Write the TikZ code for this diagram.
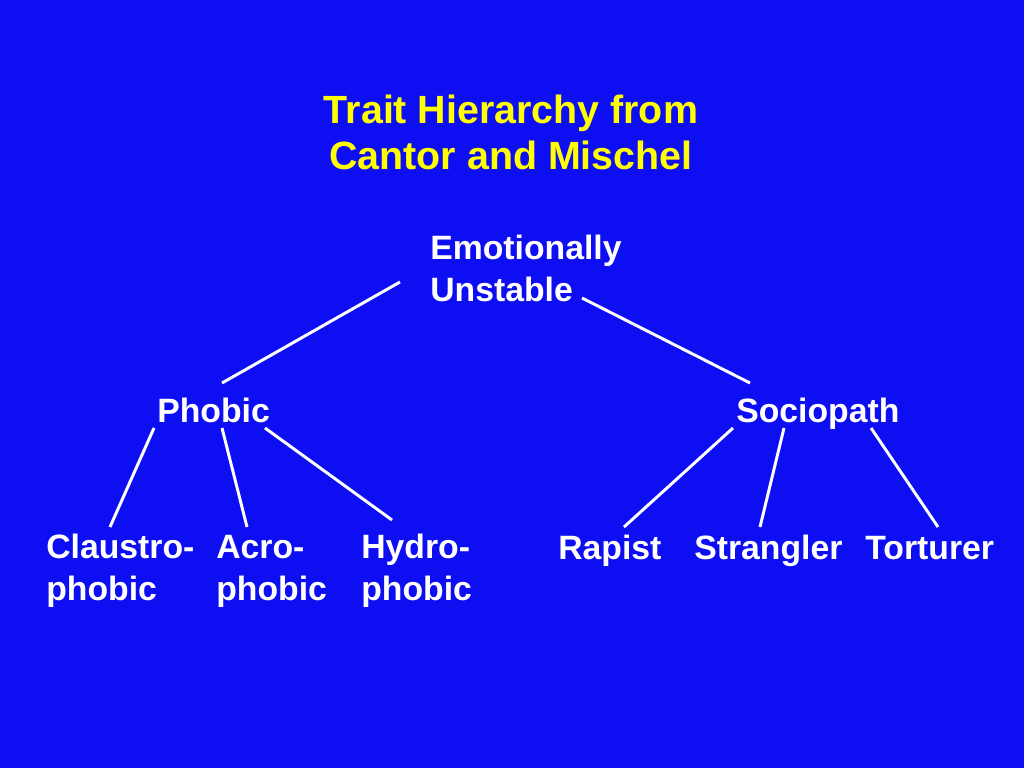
\documentclass[tikz,border=0pt]{standalone}
\usepackage{fontspec}
\setmainfont{Liberation Sans}
\usetikzlibrary{calc}
\definecolor{slideblue}{RGB}{14,14,242}
\definecolor{titleyellow}{RGB}{255,255,0}

\begin{document}
\begin{tikzpicture}[
  x=0.025cm, y=-0.025cm,
  trait/.style={anchor=base west, inner sep=0pt, align=left, text=white,
    font=\fontsize{24}{29.2}\selectfont\bfseries},
  heading/.style={anchor=base, inner sep=0pt, align=center, text=titleyellow,
    font=\fontsize{28}{33.4}\selectfont\bfseries},
  link/.style={draw=white, line width=2.1pt},
]

% Slide background
\fill[slideblue] (0,0) rectangle (1024,768);
\useasboundingbox (0,0) rectangle (1024,768);

% Title (base = last line)
\node[heading] (title) at (511,170) {Trait Hierarchy from\\Cantor and Mischel};

% Top level
\node[trait] (emo) at (430,301) {Emotionally\\Unstable};

% Middle level
\node[trait] (phobic) at (157,422) {Phobic};
\node[trait] (socio)  at (736,422) {Sociopath};

% Bottom level
\node[trait] (claustro) at (46,600)  {Claustro-\\phobic};
\node[trait] (acro)     at (216,600) {Acro-\\phobic};
\node[trait] (hydro)    at (361,600) {Hydro-\\phobic};
\node[trait] (rapist)   at (558,559) {Rapist};
\node[trait] (strangl)  at (694,559) {Strangler};
\node[trait] (tortur)   at (865,559) {Torturer};

% Links (offsets from each node's base west)
\foreach \a/\ax/\ay/\b/\bx/\by in {
    emo/-30/-19/phobic/65/-39, emo/152/-3/socio/14/-39,
    phobic/-3/6/claustro/64/-73, phobic/65/6/acro/31/-73, phobic/108/6/hydro/31/-80,
    socio/-3/6/rapist/66/-32, socio/48/6/strangl/66/-32, socio/135/6/tortur/73/-32}
  \draw[link] ($(\a.base west)+(\ax,\ay)$) -- ($(\b.base west)+(\bx,\by)$);

\end{tikzpicture}
\end{document}
